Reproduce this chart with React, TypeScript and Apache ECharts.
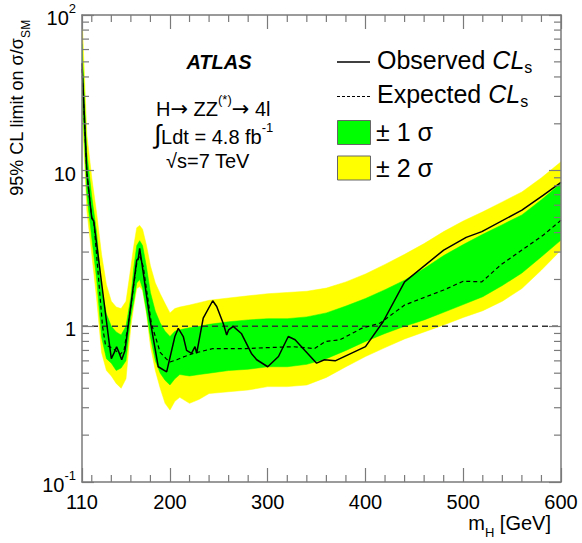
import React, { useEffect, useRef } from "react";
import * as echarts from "echarts";

const FONT = '"Liberation Sans", Arial, Helvetica, "DejaVu Sans", sans-serif';
const ARROW_FONT = '"DejaVu Sans", "Liberation Sans", sans-serif';
const AX = "#7a7a7a";

// Observed CLs limit
const obsMass = [110, 115, 120, 122, 137, 140, 143, 145.4, 148.2, 150.6, 154, 166, 167.6, 169, 170.8, 179.6, 188, 196.6, 205, 208.5, 213.6, 217, 222, 225.6, 227.3, 234, 243.7, 247.8, 254.6, 258, 260, 264.7, 273, 283.3, 288.7, 300, 311, 321, 328, 338, 350, 358, 369, 400, 418, 440, 480, 503, 519, 560, 582, 600];
const obsLimit = [49, 9.7, 4.95, 4.75, 0.86, 0.62, 0.68, 0.74, 0.67, 0.61, 0.7, 2.66, 2.73, 3.17, 2.66, 1.1, 0.55, 0.51, 0.86, 0.97, 0.86, 0.7, 0.67, 0.74, 0.67, 1.13, 1.46, 1.34, 1.04, 0.88, 0.95, 1.0, 0.9, 0.67, 0.61, 0.55, 0.64, 0.86, 0.82, 0.7, 0.58, 0.61, 0.6, 0.74, 1.07, 1.93, 3.09, 3.73, 4.06, 5.58, 6.96, 8.4];

// Expected CLs limit
const expMass = [110, 115, 120, 122, 131, 134, 142, 149, 153, 160, 166, 169, 172.7, 181, 190, 196, 200, 207, 215, 224, 244, 278, 300, 326, 348, 359, 374, 396, 415, 440, 462, 480, 500, 519, 538, 560, 582, 600];
const expLimit = [45, 9.5, 5.0, 4.8, 1.0, 0.76, 0.72, 0.66, 0.7, 1.35, 2.54, 2.87, 2.41, 1.04, 0.68, 0.62, 0.59, 0.61, 0.64, 0.67, 0.72, 0.72, 0.73, 0.74, 0.72, 0.8, 0.82, 0.97, 1.05, 1.37, 1.55, 1.71, 1.95, 1.93, 2.47, 3.09, 3.86, 4.8];

// Uncertainty bands
const bandMass = [110, 115, 120, 125, 130, 135, 140, 145, 150, 155, 160, 163, 166, 169, 172, 176, 180, 185, 190, 195, 200, 205, 210, 220, 230, 240, 260, 280, 300, 320, 340, 360, 380, 400, 420, 440, 460, 480, 500, 520, 540, 560, 580, 600];
const sigma1Lo = [32, 7.0, 3.7, 2.0, 0.85, 0.62, 0.58, 0.52, 0.54, 0.6, 1.15, 1.45, 1.9, 2.0, 1.75, 1.25, 0.85, 0.6, 0.5, 0.45, 0.42, 0.46, 0.49, 0.48, 0.49, 0.5, 0.52, 0.53, 0.55, 0.55, 0.57, 0.62, 0.7, 0.8, 0.9, 1.0, 1.1, 1.23, 1.38, 1.55, 1.83, 2.2, 2.8, 3.58];
const sigma1Hi = [65, 13, 6.8, 4.0, 1.75, 1.2, 1.0, 0.92, 0.88, 1.0, 1.55, 2.4, 3.3, 3.55, 3.3, 2.4, 1.65, 1.25, 1.05, 0.93, 0.86, 0.93, 0.95, 0.98, 1.0, 1.03, 1.07, 1.1, 1.12, 1.12, 1.15, 1.22, 1.35, 1.51, 1.72, 1.98, 2.35, 2.85, 3.35, 3.9, 4.5, 5.2, 6.5, 8.3];
const sigma2Lo = [25, 5.5, 2.9, 1.5, 0.68, 0.52, 0.48, 0.43, 0.4, 0.46, 1.0, 1.35, 1.75, 1.8, 1.7, 1.2, 0.75, 0.52, 0.4, 0.32, 0.29, 0.33, 0.35, 0.32, 0.34, 0.37, 0.38, 0.39, 0.41, 0.41, 0.42, 0.47, 0.55, 0.64, 0.73, 0.83, 0.92, 1.02, 1.14, 1.26, 1.45, 1.75, 2.3, 3.09];
const sigma2Hi = [100, 17, 9.0, 5.3, 2.9, 1.85, 1.45, 1.33, 1.3, 1.45, 2.4, 3.3, 4.3, 4.45, 4.2, 3.3, 2.45, 1.9, 1.62, 1.4, 1.22, 1.3, 1.33, 1.37, 1.42, 1.47, 1.52, 1.57, 1.62, 1.65, 1.68, 1.76, 1.93, 2.17, 2.5, 2.9, 3.4, 4.06, 4.75, 5.44, 6.3, 7.3, 9.0, 11.4];

// Axis ranges and minor tick positions
const xRange = [110, 600];
const yRange = [0.1, 100];
const smLine = [1, 1];
const xMinorTicks = [120, 140, 160, 180, 220, 240, 260, 280, 320, 340, 360, 380, 420, 440, 460, 480, 520, 540, 560, 580];
const yMinorTicks = [0.2, 0.3, 0.4, 0.5, 0.6, 0.7, 0.8, 0.9, 2, 3, 4, 5, 6, 7, 8, 9, 20, 30, 40, 50, 60, 70, 80, 90];

function bandSeries(lo: number[], hi: number[], color: string, z: number) {
  return {
    type: "custom",
    silent: true,
    z,
    clip: true,
    data: bandMass.map((m, i) => [m, lo[i], hi[i]]),
    encode: { x: 0, y: [1, 2] },
    renderItem: (params: any, api: any) => {
      if (params.dataIndex !== 0) return null;
      const upper = bandMass.map((m, i) => api.coord([m, hi[i]]));
      const lower = bandMass.map((m, i) => api.coord([m, lo[i]])).reverse();
      return {
        type: "polygon",
        shape: { points: upper.concat(lower) },
        style: { fill: color, stroke: color, lineWidth: 0.5 },
      };
    },
  };
}

function tickLine(x1: number, y1: number, x2: number, y2: number) {
  return { type: "line", shape: { x1, y1, x2, y2 }, style: { stroke: AX, lineWidth: 1.2 } };
}

export default function App() {
  const ref = useRef<HTMLDivElement>(null);
  useEffect(() => {
    const chart = echarts.init(ref.current!, null, { renderer: "svg" });
    const labelRich = {
      b: { fontSize: 20, fontFamily: FONT, color: "#000", lineHeight: 26, verticalAlign: "bottom" },
      p: { fontSize: 13, fontFamily: FONT, color: "#000", lineHeight: 13, verticalAlign: "top" },
    };
    const txt = (size: number, extra: any = {}) => ({ fontSize: size, fontFamily: FONT, fill: "#000", color: "#000", ...extra });
    const option: any = {
      animation: false,
      backgroundColor: "#fff",
      grid: { left: 82, right: 21, top: 15, bottom: 61, containLabel: false },
      xAxis: [
        {
          type: "value",
          min: xRange[0],
          max: xRange[1],
          position: "bottom",
          z: 10,
          axisLine: { show: true, onZero: false, lineStyle: { color: AX, width: 1.5 } },
          axisTick: { show: true, inside: true, length: 14, lineStyle: { color: AX, width: 1.2 } },
          axisLabel: { show: true, margin: 10, fontSize: 20, fontFamily: FONT, color: "#000" },
          splitLine: { show: false },
        },
        {
          type: "value",
          min: xRange[0],
          max: xRange[1],
          position: "top",
          z: 10,
          axisLine: { show: true, onZero: false, lineStyle: { color: AX, width: 1.5 } },
          axisTick: { show: true, inside: true, length: 14, lineStyle: { color: AX, width: 1.2 } },
          axisLabel: { show: false },
          splitLine: { show: false },
        },
      ],
      yAxis: [
        {
          type: "log",
          logBase: 10,
          min: yRange[0],
          max: yRange[1],
          position: "left",
          z: 10,
          axisLine: { show: true, onZero: false, lineStyle: { color: AX, width: 1.5 } },
          axisTick: { show: true, inside: true, length: 12, lineStyle: { color: AX, width: 1.2 } },
          axisLabel: {
            show: true,
            margin: 6,
            formatter: (v: number) => {
              const e = Math.round(Math.log10(v));
              if (e === 0) return "{b|1}";
              if (e === 1) return "{b|10}";
              return "{b|10}{p|" + e + "}";
            },
            rich: labelRich,
          },
          splitLine: { show: false },
        },
        {
          type: "log",
          logBase: 10,
          min: yRange[0],
          max: yRange[1],
          position: "right",
          z: 10,
          axisLine: { show: true, onZero: false, lineStyle: { color: AX, width: 1.5 } },
          axisTick: { show: true, inside: true, length: 12, lineStyle: { color: AX, width: 1.2 } },
          axisLabel: { show: false },
          splitLine: { show: false },
        },
      ],
      series: [
        bandSeries(sigma2Lo, sigma2Hi, "#ffff00", 1),
        bandSeries(sigma1Lo, sigma1Hi, "#00ff00", 2),
        {
          type: "line",
          z: 3,
          silent: true,
          showSymbol: false,
          data: xRange.map((m, i) => [m, smLine[i]]),
          lineStyle: { color: "#333", width: 1.5, type: [6, 4] },
        },
        {
          type: "line",
          z: 4,
          silent: true,
          showSymbol: false,
          data: expMass.map((m, i) => [m, expLimit[i]]),
          lineStyle: { color: "#000", width: 1.2, type: [4, 3] },
        },
        {
          type: "line",
          z: 5,
          silent: true,
          showSymbol: false,
          data: obsMass.map((m, i) => [m, obsLimit[i]]),
          lineStyle: { color: "#000", width: 1.5 },
        },
        {
          type: "custom",
          silent: true,
          z: 11,
          clip: false,
          data: yMinorTicks.map((v) => [xRange[0], v]),
          renderItem: (params: any, api: any) => {
            const v = api.value(1);
            const a = api.coord([xRange[0], v]);
            const b = api.coord([xRange[1], v]);
            return { type: "group", children: [tickLine(a[0], a[1], a[0] + 7, a[1]), tickLine(b[0] - 7, b[1], b[0], b[1])] };
          },
        },
        {
          type: "custom",
          silent: true,
          z: 11,
          clip: false,
          data: xMinorTicks.map((m) => [m, yRange[0]]),
          renderItem: (params: any, api: any) => {
            const m = api.value(0);
            const a = api.coord([m, yRange[0]]);
            const b = api.coord([m, yRange[1]]);
            return { type: "group", children: [tickLine(a[0], a[1], a[0], a[1] - 7), tickLine(b[0], b[1], b[0], b[1] + 7)] };
          },
        },
      ],
      graphic: [
        // y-axis title
        {
          type: "text",
          x: 20,
          y: 108,
          rotation: Math.PI / 2,
          style: {
            text: "{a|95% CL limit on σ/σ}{s|SM}",
            align: "center",
            verticalAlign: "middle",
            textAlign: "center",
            textVerticalAlign: "middle",
            rich: {
              a: { fontSize: 18, fontFamily: FONT, color: "#000", lineHeight: 24, verticalAlign: "top" },
              s: { fontSize: 12, fontFamily: FONT, color: "#000", lineHeight: 12, verticalAlign: "bottom" },
            },
          },
        },
        // x-axis title
        {
          type: "text",
          x: 551,
          y: 526,
          style: {
            text: "{a|m}{s|H}{a| [GeV]}",
            align: "right",
            verticalAlign: "middle",
            textAlign: "right",
            textVerticalAlign: "middle",
            rich: {
              a: { fontSize: 20, fontFamily: FONT, color: "#000", lineHeight: 26, verticalAlign: "top" },
              s: { fontSize: 13, fontFamily: FONT, color: "#000", lineHeight: 13, verticalAlign: "bottom" },
            },
          },
        },
        // ATLAS label
        {
          type: "text",
          x: 219,
          y: 62,
          style: {
            text: "ATLAS",
            fontSize: 20,
            fontWeight: "bold",
            fontStyle: "italic",
            fontFamily: FONT,
            fill: "#000",
            align: "center",
            verticalAlign: "middle",
            textAlign: "center",
            textVerticalAlign: "middle",
          },
        },
        {
          type: "text",
          x: 156,
          y: 106,
          style: {
            text: "{a|H}{r|→}{a| ZZ}{p|(*)}{r|→}{a| 4l}",
            align: "left",
            verticalAlign: "middle",
            textAlign: "left",
            textVerticalAlign: "middle",
            rich: {
              a: { fontSize: 20, fontFamily: FONT, color: "#000", lineHeight: 26, verticalAlign: "bottom" },
              r: { fontSize: 21, fontFamily: ARROW_FONT, color: "#000", lineHeight: 26, verticalAlign: "bottom" },
              p: { fontSize: 13, fontFamily: FONT, color: "#000", lineHeight: 12, verticalAlign: "top" },
            },
          },
        },
        {
          type: "text",
          x: 154,
          y: 134,
          style: {
            text: "{i|∫}{a|Ldt = 4.8 fb}{p|-1}",
            align: "left",
            verticalAlign: "middle",
            textAlign: "left",
            textVerticalAlign: "middle",
            rich: {
              i: { fontSize: 26, fontFamily: FONT, color: "#000", lineHeight: 26, verticalAlign: "bottom" },
              a: { fontSize: 20, fontFamily: FONT, color: "#000", lineHeight: 26, verticalAlign: "bottom" },
              p: { fontSize: 13, fontFamily: FONT, color: "#000", lineHeight: 12, verticalAlign: "top" },
            },
          },
        },
        {
          type: "text",
          x: 166,
          y: 161,
          style: {
            text: "√s=7 TeV",
            ...txt(20),
            align: "left",
            verticalAlign: "middle",
            textAlign: "left",
            textVerticalAlign: "middle",
          },
        },
        // legend
        { type: "line", shape: { x1: 337, y1: 62, x2: 370, y2: 62 }, style: { stroke: "#000", lineWidth: 1.3 } },
        { type: "line", shape: { x1: 337, y1: 96.5, x2: 370, y2: 96.5 }, style: { stroke: "#000", lineWidth: 1.2, lineDash: [3, 2] } },
        { type: "rect", shape: { x: 337.5, y: 120.5, width: 33, height: 24 }, style: { fill: "#00ff00", stroke: "#666", lineWidth: 1 } },
        { type: "rect", shape: { x: 337.5, y: 156, width: 33, height: 24 }, style: { fill: "#ffff00", stroke: "#666", lineWidth: 1 } },
        {
          type: "text",
          x: 377,
          y: 61,
          style: {
            text: "{a|Observed }{i|CL}{s|s}",
            align: "left",
            verticalAlign: "middle",
            textAlign: "left",
            textVerticalAlign: "middle",
            rich: {
              a: { fontSize: 25, fontFamily: FONT, color: "#000", lineHeight: 28, verticalAlign: "top" },
              i: { fontSize: 25, fontFamily: FONT, fontStyle: "italic", color: "#000", lineHeight: 28, verticalAlign: "top" },
              s: { fontSize: 16, fontFamily: FONT, color: "#000", lineHeight: 12, verticalAlign: "bottom" },
            },
          },
        },
        {
          type: "text",
          x: 377,
          y: 95.5,
          style: {
            text: "{a|Expected }{i|CL}{s|s}",
            align: "left",
            verticalAlign: "middle",
            textAlign: "left",
            textVerticalAlign: "middle",
            rich: {
              a: { fontSize: 25, fontFamily: FONT, color: "#000", lineHeight: 28, verticalAlign: "top" },
              i: { fontSize: 25, fontFamily: FONT, fontStyle: "italic", color: "#000", lineHeight: 28, verticalAlign: "top" },
              s: { fontSize: 16, fontFamily: FONT, color: "#000", lineHeight: 12, verticalAlign: "bottom" },
            },
          },
        },
        {
          type: "text",
          x: 376,
          y: 132,
          style: { text: "± 1 σ", ...txt(25), align: "left", verticalAlign: "middle", textAlign: "left", textVerticalAlign: "middle" },
        },
        {
          type: "text",
          x: 376,
          y: 168,
          style: { text: "± 2 σ", ...txt(25), align: "left", verticalAlign: "middle", textAlign: "left", textVerticalAlign: "middle" },
        },
      ],
    };
    chart.setOption(option);
    return () => chart.dispose();
  }, []);
  return (
    <div
      ref={ref}
      style={{ position: "fixed", left: 0, top: 0, width: 582, height: 543, background: "#fff" }}
    />
  );
}
